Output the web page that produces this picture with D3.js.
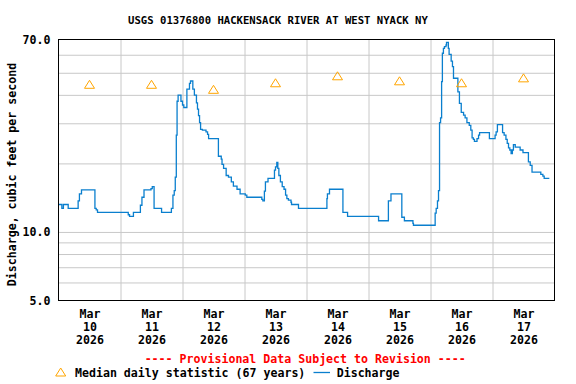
<!DOCTYPE html>
<html><head><meta charset="utf-8">
<script src="https://cdn.jsdelivr.net/npm/d3@7"></script>
<style>
html,body{margin:0;padding:0;background:#fff;}
svg text{font-family:"DejaVu Sans Mono",monospace;font-weight:bold;}
</style></head>
<body><svg id="c" width="576" height="384"></svg>
<script>
const titleText = "USGS 01376800 HACKENSACK RIVER AT WEST NYACK NY";
const yLabelText = "Discharge, cubic feet per second";
const provisionalText = "---- Provisional Data Subject to Revision ----";
const medianLegend = "Median daily statistic (67 years)";
const dischargeLegend = "Discharge";

const startDate = "2026-03-10T00:00:00";
const endDate = "2026-03-18T00:00:00";
const dayLabels = ["2026-03-10","2026-03-11","2026-03-12","2026-03-13","2026-03-14","2026-03-15","2026-03-16","2026-03-17"];
const medianValues = [44.5, 44.5, 42.3, 45.2, 48.5, 46.1, 45.2, 47.5];

const yTickValues = [5, 10, 70];
const yGridValues = [6, 7, 8, 9, 10, 20, 30, 40, 50, 60];

// hours after 2026-03-10 00:00
const dischargeHours = [0,1.3,1.9,3.75,7.6,8.1,8.9,14.1,14.6,15.1,
27.0,27.5,29.0,31.7,32.3,33.1,35.8,36.3,37.0,39.9,
43.7,44.3,44.8,45.2,45.6,45.9,46.3,47.4,48.0,48.5,
49.7,50.7,51.1,52.0,52.6,53.4,53.8,54.2,54.6,55.0,
55.7,57.1,57.7,58.1,61.9,63.0,63.3,63.9,64.9,65.8,
66.9,67.7,69.1,70.3,72.3,72.9,78.7,79.1,79.7,80.1,
81.1,83.6,84.0,84.5,84.9,85.3,85.9,86.6,87.3,87.9,
88.4,89.0,90.0,90.2,92.9,103.9,104.1,104.9,110.1,111.9,
123.9,127.7,128.7,132.9,133.9,137.2,137.4,145.8,146.2,146.7,
147.1,147.5,147.9,148.3,148.6,149.0,149.4,150.0,150.2,150.9,
151.2,152.0,152.5,152.9,154.6,155.2,155.9,156.8,157.4,158.1,
159.0,159.6,160.1,160.6,161.0,162.0,162.6,163.0,166.8,169.0,
169.4,169.9,171.9,172.5,173.2,173.7,174.2,174.7,175.2,175.7,
176.1,176.8,178.7,179.8,181.9,182.6,183.3,186.7,187.5,188.0,
190.0];
const dischargeValues = [13.2,12.7,13.2,12.7,13.7,14.7,15.3,12.7,12.5,12.2,
11.9,11.7,12.2,13.1,14.2,15.3,15.5,15.8,12.7,12.2,
12.7,14.5,15.2,17.4,26.6,37.5,39.9,37.5,36.1,35.2,
42.4,44.9,46.0,42.4,39.9,36.9,34.6,32.4,30.2,28.2,
28.0,27.5,26.8,25.7,21.5,20.9,19.8,19.0,17.7,17.4,
16.6,15.9,15.4,14.7,14.5,14.2,13.9,13.7,15.1,16.6,
17.2,18.7,19.3,20.2,19.0,17.7,16.6,15.8,15.4,14.5,
14.0,13.8,13.5,13.2,12.7,14.0,14.7,15.4,12.2,11.7,
11.2,13.7,14.7,11.6,11.2,10.9,10.7,12.1,12.7,13.7,
15.2,30.2,31.7,45.7,60.9,64.0,65.1,66.2,68.0,64.0,
60.2,56.3,53.2,47.3,41.2,36.7,33.5,32.6,31.7,30.2,
29.4,28.0,25.9,25.5,25.0,25.7,26.6,27.3,25.7,26.6,
27.5,29.6,27.3,26.6,25.5,24.5,23.4,22.9,22.1,22.9,
24.2,23.6,22.9,22.3,20.3,19.6,18.3,17.9,17.6,17.2,
17.2];

const svg = d3.select("#c");
const L = 58.5, R = 554.5, T = 39.5, B = 300.5;
const t0 = new Date(startDate), t1 = new Date(endDate);
const x = d3.scaleTime().domain([t0, t1]).range([L, R]);
const y = d3.scaleLog().domain([5, 70]).range([B, T]);
const gridColor = "#c8c8c8";
const blue = "#0a7fce";
const orange = "#ffa500";

// horizontal grid
svg.append("g").attr("transform", `translate(${L},0)`)
  .call(d3.axisLeft(y).tickValues(yGridValues).tickSize(-(R - L)).tickFormat(""))
  .call(g => g.select(".domain").remove())
  .call(g => g.selectAll("line").attr("stroke", gridColor).attr("stroke-width", 1));

// vertical grid at day boundaries
const dayBounds = dayLabels.slice(1).map(d => new Date(d + "T00:00:00"));
svg.append("g").attr("transform", `translate(0,${B})`)
  .call(d3.axisBottom(x).tickValues(dayBounds).tickSize(-(B - T)).tickFormat(""))
  .call(g => g.select(".domain").remove())
  .call(g => g.selectAll("line").attr("stroke", gridColor).attr("stroke-width", 1));

// discharge line
const pts = dischargeHours.map((h, i) => ({t: new Date(t0.getTime() + h * 3600000), v: dischargeValues[i]}));
svg.append("path").datum(pts)
  .attr("fill", "none").attr("stroke", blue).attr("stroke-width", 1.3)
  .attr("d", d3.line().x(d => x(d.t)).y(d => y(d.v)).curve(d3.curveStepAfter));

// median triangles
const tri = "M0,-4L5,4L-5,4Z";
svg.append("g").selectAll("path").data(dayLabels.map((d, i) => ({t: new Date(d + "T12:00:00"), v: medianValues[i]})))
  .join("path")
  .attr("d", tri)
  .attr("transform", d => `translate(${x(d.t)},${y(d.v)})`)
  .attr("fill", "none").attr("stroke", orange).attr("stroke-width", 1);

// frame
svg.append("rect").attr("x", L).attr("y", T).attr("width", R - L).attr("height", B - T)
  .attr("fill", "none").attr("stroke", "#000").attr("stroke-width", 1);

// y axis labels
svg.append("g").attr("transform", `translate(${L},0)`)
  .call(d3.axisLeft(y).tickValues(yTickValues).tickSize(0).tickPadding(8).tickFormat(d3.format(".1f")))
  .call(g => g.select(".domain").remove())
  .call(g => g.selectAll("text").attr("fill", "#000").attr("font-size", "11.6px")
      .attr("font-family", "DejaVu Sans Mono").attr("font-weight", "bold"));

// x axis labels
const noon = dayLabels.map(d => new Date(d + "T12:00:00"));
const fmtMon = d3.timeFormat("%b"), fmtDay = d3.timeFormat("%d"), fmtYr = d3.timeFormat("%Y");
const xg = svg.append("g").attr("transform", `translate(0,${B})`)
  .call(d3.axisBottom(x).tickValues(noon).tickSize(0).tickFormat(""));
xg.select(".domain").remove();
xg.selectAll(".tick").each(function(d) {
  const t = d3.select(this).select("text").text(null)
    .attr("y", 0).attr("dy", null)
    .attr("fill", "#000").attr("font-size", "11.6px")
    .attr("font-family", "DejaVu Sans Mono").attr("font-weight", "bold");
  t.append("tspan").attr("x", 0).attr("y", 17.5).text(fmtMon(d));
  t.append("tspan").attr("x", 0).attr("y", 30.5).text(fmtDay(d));
  t.append("tspan").attr("x", 0).attr("y", 43.5).text(fmtYr(d));
});

// title
svg.append("text").attr("x", 278).attr("y", 24).attr("text-anchor", "middle")
  .attr("font-size", "10.6px").attr("fill", "#000").text(titleText);

// y label
svg.append("text").attr("transform", "translate(16,174.5) rotate(-90)")
  .attr("text-anchor", "middle").attr("font-size", "11.6px").attr("fill", "#000").text(yLabelText);

// provisional
svg.append("text").attr("x", 305.2).attr("y", 362.5).attr("text-anchor", "middle")
  .attr("font-size", "11.6px").attr("fill", "#ff0000").text(provisionalText);

// legend
svg.append("path").attr("d", tri).attr("transform", "translate(60.7,372)")
  .attr("fill", "none").attr("stroke", orange).attr("stroke-width", 1);
svg.append("text").attr("x", 75).attr("y", 377).attr("font-size", "11.6px").attr("fill", "#000").text(medianLegend);
svg.append("line").attr("x1", 313.5).attr("x2", 330).attr("y1", 372.5).attr("y2", 372.5)
  .attr("stroke", blue).attr("stroke-width", 1.3);
svg.append("text").attr("x", 336.7).attr("y", 377).attr("font-size", "11.6px").attr("fill", "#000").text(dischargeLegend);
</script>
</body></html>
